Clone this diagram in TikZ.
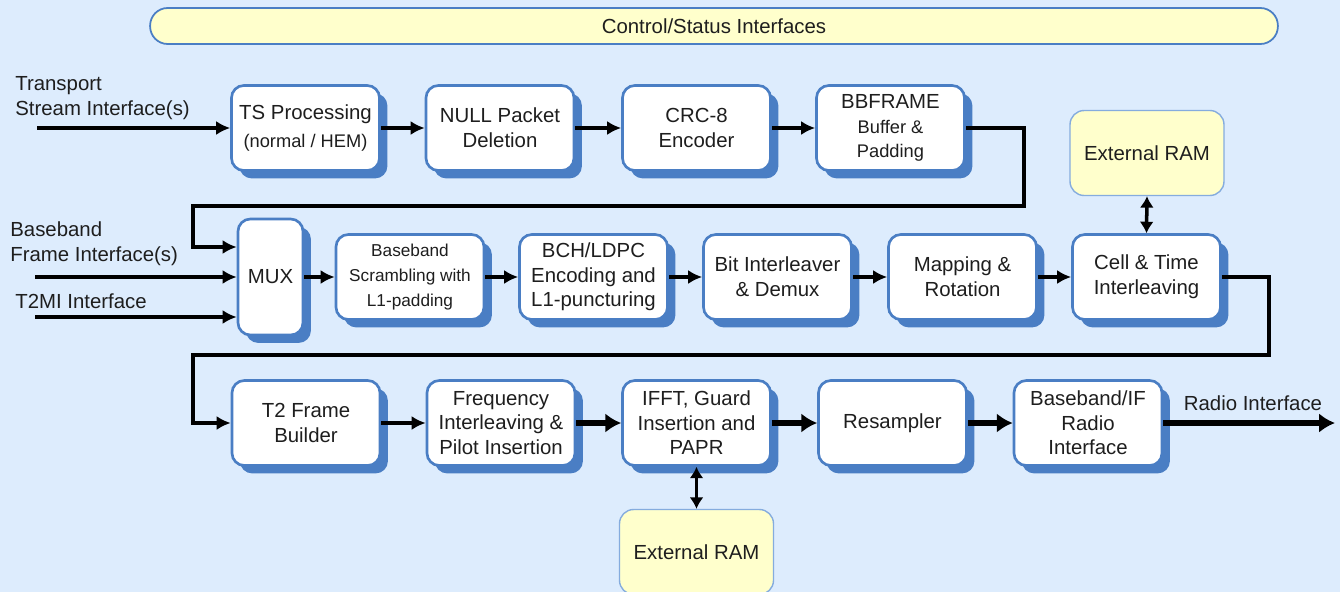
\documentclass[tikz,border=0pt]{standalone}
\usepackage{fontspec}
\setmainfont{Liberation Sans}
\usetikzlibrary{arrows.meta,shadows,calc}

\definecolor{bgblue}{RGB}{221,236,253}
\definecolor{boxblue}{RGB}{74,126,196}
\definecolor{ramfill}{RGB}{255,255,204}
\definecolor{ramline}{RGB}{133,172,222}
\definecolor{txtgray}{RGB}{30,30,30}

\newcommand{\bigfont}{\fontsize{11.6}{14}\selectfont}
\newcommand{\midfont}{\fontsize{10.4}{13}\selectfont}
\newcommand{\tinyfont}{\fontsize{9.8}{12}\selectfont}

\tikzset{
    block/.style={draw=boxblue, line width=1.5pt, fill=white, rounded corners=7pt,
        align=center, minimum width=2.96cm, minimum height=1.7cm, inner sep=1pt,
        drop shadow={shadow xshift=4.5pt, shadow yshift=-4.5pt, fill=boxblue, opacity=1}},
    ram/.style={draw=ramline, line width=0.8pt, fill=ramfill, rounded corners=8pt,
        align=center, minimum width=3.08cm, minimum height=1.7cm},
    lbl/.style={inner sep=0pt, anchor=west, align=left},
    flow/.style={-{Latex[length=8pt,width=8pt]}, line width=2pt},
    bigflow/.style={-{Latex[length=9pt,width=11pt]}, line width=3.6pt},
    ramlink/.style={{Latex[length=6.5pt,width=8pt]}-{Latex[length=6.5pt,width=8pt]}, line width=2pt}
}

\begin{document}
\begin{tikzpicture}[x=0.02cm, y=-0.02cm, font=\bigfont, text=txtgray]
    \useasboundingbox (0,0) rectangle (1340,592);
    \fill[bgblue] (0,0) rectangle (1340,592);
    \clip (0,0) rectangle (1340,592);

    \node[draw=boxblue, line width=1pt, fill=ramfill, rounded corners=10pt,
        minimum width=22.56cm, minimum height=0.72cm] (ctrl) at (714,26)
        {Control/Status Interfaces};

    % inputs and outputs
    \node[lbl] (tslbl) at (15,98) {Transport\\Stream Interface(s)};
    \node[lbl] (bblbl) at (10,244) {Baseband\\Frame Interface(s)};
    \node[lbl] (t2milbl) at (15,301) {T2MI Interface};
    \node (radiolbl) at (1253,403) {Radio Interface};
    \coordinate (tsin) at (37,128);
    \coordinate (bbin) at (35,277);
    \coordinate (t2miin) at (35,317);
    \coordinate (radioout) at (1335,423);

    % first row
    \node[block] (ts) at (305.5,128) {TS Processing\\[2pt]{\midfont (normal / HEM)}};
    \node[block] (null) at (500,128) {NULL Packet\\Deletion};
    \node[block] (crc) at (696.5,128) {CRC-8\\Encoder};
    \node[block] (bbf) at (890.5,128) {BBFRAME\\{\midfont Buffer \&}\\{\midfont Padding}};

    % second row
    \node[block, minimum width=1.3cm, minimum height=2.32cm] (mux) at (270.5,277) {MUX};
    \foreach \name/\x/\txt in {
        scr/410/{\tinyfont Baseband\\\tinyfont Scrambling with\\\tinyfont L1-padding},
        bch/593.5/{BCH/LDPC\\Encoding and\\L1-puncturing},
        bit/777.5/{Bit Interleaver\\\& Demux},
        map/962.5/{Mapping \&\\Rotation},
        cell/1146.5/{Cell \& Time\\Interleaving}}{
        \node[block] (\name) at (\x,277) {\txt};
    }

    % third row
    \foreach \name/\x/\txt in {
        t2/306/{T2 Frame\\Builder},
        freq/501/{Frequency\\Interleaving \&\\Pilot Insertion},
        ifft/696.5/{IFFT, Guard\\Insertion and\\PAPR},
        res/892.5/{Resampler},
        bbif/1088/{Baseband/IF\\Radio\\Interface}}{
        \node[block] (\name) at (\x,423) {\txt};
    }

    \node[ram] (ramtop) at (1147,153) {External RAM};
    \node[ram] (rambot) at (696.5,552) {External RAM};

    % connectors
    \draw[flow] (tsin) -- (ts);
    \foreach \a/\b in {ts/null, null/crc, crc/bbf, mux/scr, scr/bch, bch/bit,
        bit/map, map/cell, t2/freq}{
        \draw[flow] (\a) -- (\b);
    }
    \draw[flow] (bbf.east) -- ++(58,0) |- (193,206) |- ($(mux.west)+(0,-30)$);
    \draw[flow] (bbin) -- (mux.west);
    \draw[flow] (t2miin) -- (mux.west |- t2miin);
    \draw[flow] (cell.east) -- ++(47,0) |- (193,355) |- (t2.west);
    \foreach \a/\b in {freq/ifft, ifft/res, res/bbif}{
        \draw[bigflow] (\a) -- (\b);
    }
    \draw[bigflow] (bbif.east) -- (radioout);
    \draw[ramlink] (ramtop.south) -- (cell.north);
    \draw[ramlink] (ifft.south) -- (rambot.north);
\end{tikzpicture}
\end{document}
